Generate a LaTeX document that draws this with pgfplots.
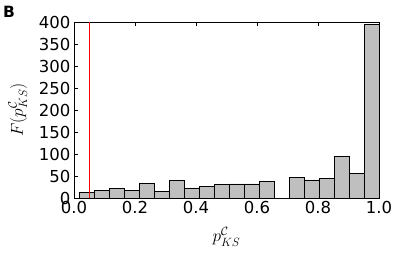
\documentclass[border=0pt]{standalone}
\usepackage{pgfplots}
\pgfplotsset{compat=1.18}
\usepackage{fontspec}
\setmainfont{DejaVu Sans}
\definecolor{bargray}{RGB}{191,191,191}
\definecolor{vred}{RGB}{255,0,0}
\begin{document}
\begin{tikzpicture}
\path[use as bounding box] (0pt,0pt) rectangle (407pt,252pt);
\node[anchor=north west, inner sep=0pt, font=\fontsize{15.5}{15.5}\selectfont\bfseries] at (3pt,246pt) {B};
\begin{axis}[
  at={(74pt,54pt)}, anchor=south west,
  scale only axis, width=305pt, height=176pt,
  xmin=0, xmax=1, ymin=0, ymax=400,
  xtick={0,0.2,0.4,0.6,0.8,1.0},
  ytick={0,50,100,150,200,250,300,350,400},
  xticklabel style={/pgf/number format/.cd, fixed, fixed zerofill, precision=1},
  /pgf/number format/assume math mode=true,
  tick label style={font=\fontsize{16.5}{16.5}\selectfont},
  tick align=inside, major tick length=4pt,
  tick style={black, line width=0.6pt},
  axis line style={line width=0.8pt},
  label style={font=\fontsize{16.5}{16.5}\selectfont},
  xlabel={$p^{\mathcal{C}}_{KS}$},
  ylabel={$F(p^{\mathcal{C}}_{KS})$},
  xlabel style={at={(axis description cs:0.5,-0.22)}, anchor=center},
  ylabel style={at={(axis description cs:-0.184,0.5)}, anchor=center},
  clip=false,
]
\addplot[ybar interval, fill=bargray, draw=black, line width=0.7pt] coordinates {
(0.0175,13) (0.0666,17) (0.1158,22) (0.1649,17) (0.2140,33) (0.2632,15)
(0.3123,39) (0.3614,23) (0.4105,27) (0.4597,31) (0.5088,32) (0.5579,32)
(0.6070,37) (0.6562,0) (0.7053,47) (0.7544,41) (0.8035,44) (0.8527,95)
(0.9018,55) (0.9509,395) (1.0000,395)
};
\addplot[sharp plot, draw=vred, line width=1.3pt, mark=none] coordinates {(0.05,0) (0.05,400)};
\end{axis}
\end{tikzpicture}
\end{document}
